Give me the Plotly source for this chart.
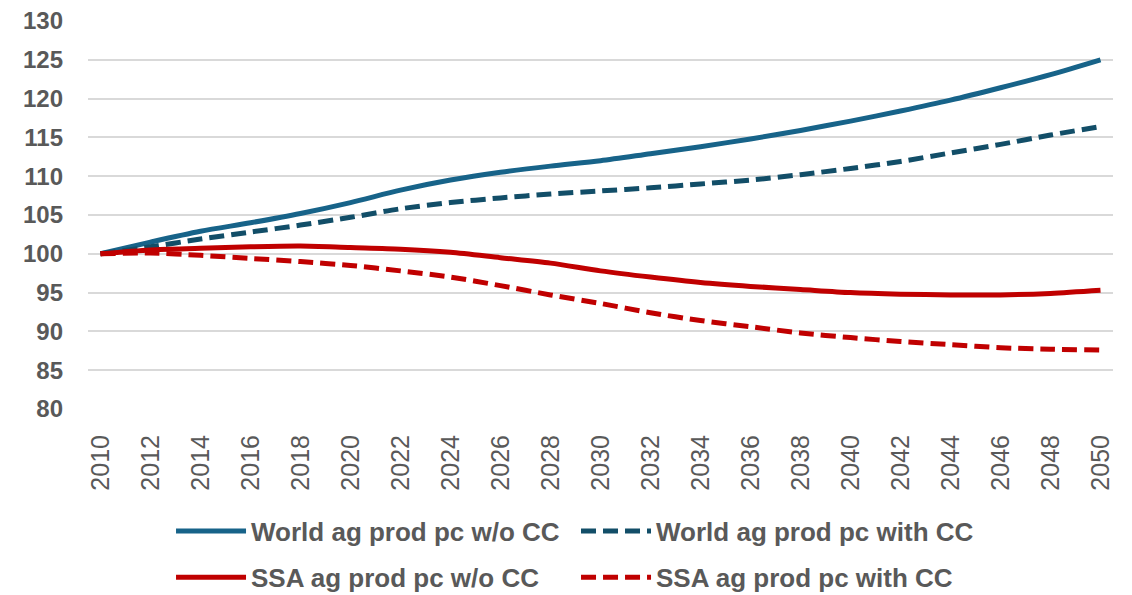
import plotly.graph_objects as go

# Agricultural production per capita index (2010 = 100)
years = list(range(2010, 2051, 2))

world_no_cc = [100.0, 101.5, 102.9, 104.0, 105.2, 106.6, 108.2, 109.5, 110.5, 111.3, 112.0,
               112.9, 113.8, 114.8, 115.9, 117.1, 118.4, 119.8, 121.4, 123.1, 125.0]
world_cc = [100.0, 100.9, 101.9, 102.8, 103.7, 104.7, 105.8, 106.6, 107.2, 107.7, 108.1,
            108.5, 109.0, 109.5, 110.2, 111.0, 111.9, 113.0, 114.1, 115.3, 116.4]
ssa_no_cc = [100.0, 100.5, 100.7, 100.9, 101.0, 100.8, 100.6, 100.2, 99.5, 98.8, 97.8,
             97.0, 96.3, 95.8, 95.4, 95.0, 94.8, 94.7, 94.7, 94.9, 95.3]
ssa_cc = [100.0, 100.1, 99.8, 99.4, 99.0, 98.5, 97.8, 97.0, 95.9, 94.7, 93.6,
          92.4, 91.4, 90.6, 89.8, 89.2, 88.7, 88.3, 87.9, 87.7, 87.6]

series_names = ["World ag prod pc w/o CC", "World ag prod pc with CC",
                "SSA ag prod pc w/o CC", "SSA ag prod pc with CC"]
y_ticks = list(range(80, 131, 5))

BLUE = "#176389"
DARK_BLUE = "#124E68"
RED = "#C00000"
GREY = "#595959"
DASH = "15px,7px"

fig = go.Figure()
traces = [
    (world_no_cc, series_names[0], BLUE, "solid", "legend"),
    (world_cc, series_names[1], DARK_BLUE, DASH, "legend"),
    (ssa_no_cc, series_names[2], RED, "solid", "legend2"),
    (ssa_cc, series_names[3], RED, DASH, "legend2"),
]
for vals, name, color, dash, leg in traces:
    fig.add_trace(go.Scatter(
        x=years, y=vals, name=name, mode="lines",
        line=dict(color=color, width=5, dash=dash, shape="spline", smoothing=0.8),
        legend=leg,
    ))

legend_style = dict(
    orientation="h", xanchor="left", yanchor="middle",
    font=dict(family="Liberation Sans", size=26, color=GREY, weight="bold"),
    itemwidth=70, entrywidth=320, entrywidthmode="pixels",
    bgcolor="rgba(0,0,0,0)", traceorder="normal",
)

fig.update_layout(
    width=1132, height=595,
    margin=dict(l=88, r=19, t=21, b=185.5, autoexpand=False),
    paper_bgcolor="white", plot_bgcolor="white",
    showlegend=True,
    legend=dict(x=0.081, y=-0.315, **legend_style),
    legend2=dict(x=0.081, y=-0.434, **legend_style),
    xaxis=dict(
        range=[2009.5, 2050.5], tickvals=years, ticktext=[str(y) for y in years],
        tickangle=-90, showgrid=False, zeroline=False, showline=False, ticks="",
        ticklabelstandoff=20, automargin=False,
        tickfont=dict(family="Liberation Sans", size=25, color=GREY),
    ),
    yaxis=dict(
        range=[80, 130], tickvals=y_ticks, showgrid=True, gridcolor="#D9D9D9",
        gridwidth=2, zeroline=False, showline=False, ticks="",
        ticklabelstandoff=24, automargin=False,
        tickfont=dict(family="Liberation Sans", size=24, color=GREY, weight="bold"),
    ),
)

fig.write_html("out.html")
